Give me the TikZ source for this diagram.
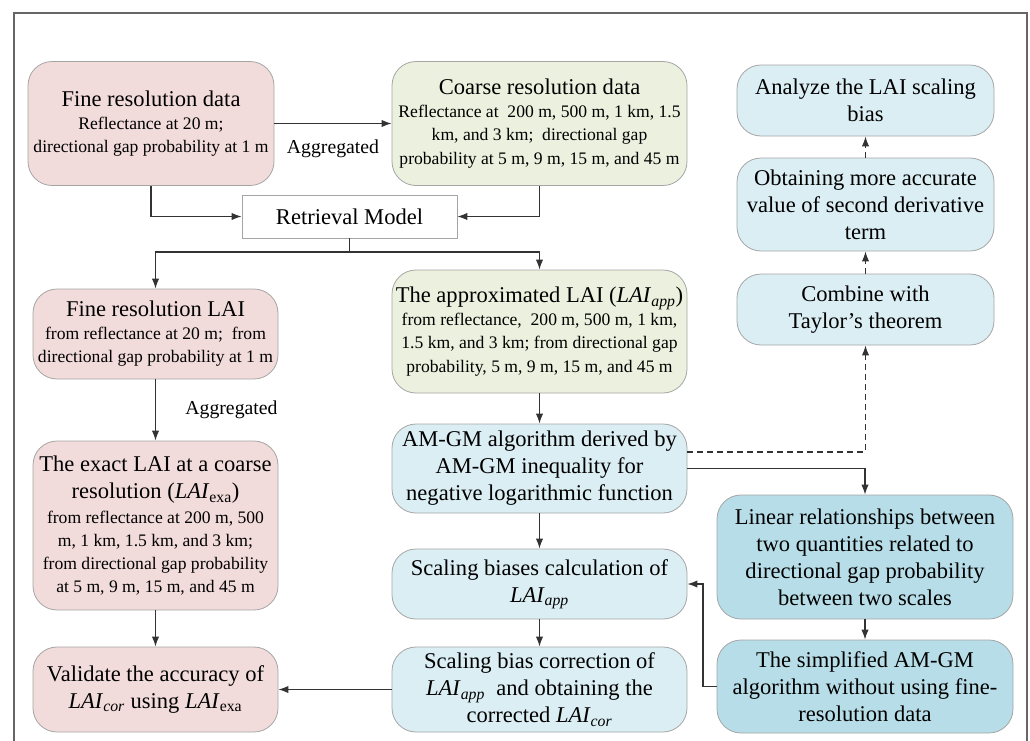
\documentclass[tikz,border=0pt]{standalone}
\usepackage{fontspec}
\setmainfont{Liberation Serif}
\usetikzlibrary{arrows.meta,calc}

\definecolor{pinkfill}{HTML}{F2DCDB}
\definecolor{greenfill}{HTML}{EBF1DE}
\definecolor{bluefill}{HTML}{DBEEF4}
\definecolor{tealfill}{HTML}{B7DEE8}
\definecolor{boxline}{HTML}{A5A5A5}
\definecolor{linkline}{HTML}{333333}
\definecolor{frameline}{HTML}{666666}

\newcommand{\boxtitle}{\fontsize{16.9}{20.2}\selectfont}
\newcommand{\boxbody}{\fontsize{13.2}{17.3}\selectfont}
\newcommand{\lai}[1]{\textit{LAI}\textsubscript{#1}}

\tikzset{
	boxdim/.style 2 args={minimum width=#1*0.75pt, minimum height=#2*0.75pt},
	flowbox/.style={draw=boxline, line width=0.6pt, rounded corners=18pt, align=center, inner sep=2pt, font=\boxbody},
	finebox/.style={flowbox, fill=pinkfill},
	coarsebox/.style={flowbox, fill=greenfill},
	stepbox/.style={flowbox, fill=bluefill, font=\boxtitle},
	simplebox/.style={flowbox, fill=tealfill, font=\boxtitle},
	link/.style={draw=linkline, line width=0.9pt, ->},
	dlink/.style={link, dash pattern=on 4.5pt off 3pt},
	lbl/.style={font=\fontsize{14.8}{17}\selectfont, inner sep=0pt}
}

\begin{document}
\begin{tikzpicture}[x=0.75pt, y=-0.75pt, >={Latex[length=7.5pt,width=5.5pt]}]
	\useasboundingbox (0,0) rectangle (1030,740);
	\draw[frameline, line width=1.1pt] (14,745) -- (14,13) -- (1027,13) -- (1027,745);
	
	\node[finebox, boxdim={246}{124}] (fined) at (151,123.5) {{\boxtitle Fine resolution data}\\Reflectance at 20 m;\\directional gap probability at 1 m};
	\node[coarsebox, boxdim={295}{124}] (coarse) at (539.5,123.5) {{\boxtitle Coarse resolution data}\\Reflectance at \ 200 m, 500 m, 1 km, 1.5\\km, and 3 km; \ directional gap\\probability at 5 m, 9 m, 15 m, and 45 m};
	\node[flowbox, rounded corners=0pt, font=\boxtitle, boxdim={215}{43}] (retrieval) at (349.5,216.5) {Retrieval Model};
	
	\node[stepbox, boxdim={257}{71}] (analyze) at (865.5,100.5) {Analyze the LAI scaling\\bias};
	\node[stepbox, boxdim={257}{93}] (obtain) at (865.5,204.5) {Obtaining more accurate\\value of second derivative\\term};
	\node[stepbox, boxdim={257}{71}] (combine) at (865.5,309.5) {Combine with\\Taylor’s theorem};
	
	\node[finebox, boxdim={245}{90}] (finelai) at (155.5,334) {{\boxtitle Fine resolution LAI}\\from reflectance at 20 m; \ from\\directional gap probability at 1 m};
	\node[finebox, boxdim={245}{169}] (exact) at (155.5,525.5) {{\boxtitle The exact LAI at a coarse}\\[3pt]{\boxtitle resolution (\lai{exa})}\\[1pt]from reflectance at 200 m, 500\\m, 1 km, 1.5 km, and 3 km;\\from directional gap probability\\at 5 m, 9 m, 15 m, and 45 m};
	\node[finebox, font=\boxtitle, boxdim={245}{85}] (validate) at (155.5,689.5) {Validate the accuracy of\\\lai{\textit{cor}} using \lai{exa}};
	
	\node[coarsebox, boxdim={295}{123}] (approx) at (539.5,331.5) {{\boxtitle The approximated LAI (\lai{\textit{app}})}\\from reflectance, \ 200 m, 500 m, 1 km,\\1.5 km, and 3 km; from directional gap\\probability, 5 m, 9 m, 15 m, and 45 m};
	\node[stepbox, boxdim={295}{89}] (amgm) at (539.5,468.5) {AM-GM algorithm derived by\\AM-GM inequality for\\negative logarithmic function};
	\node[stepbox, boxdim={295}{70}] (scaling) at (539.5,584) {Scaling biases calculation of\\\lai{\textit{app}}};
	\node[stepbox, boxdim={295}{85}] (correct) at (539.5,689.5) {Scaling bias correction of\\\lai{\textit{app}} \ and obtaining the\\corrected \lai{\textit{cor}}};
	
	\node[simplebox, boxdim={296}{124}] (linear) at (865,557) {Linear relationships between\\two quantities related to\\directional gap probability\\between two scales};
	\node[simplebox, boxdim={296}{93}] (simple) at (865,686.5) {The simplified AM-GM\\algorithm without using fine-\\resolution data};
	
	\coordinate (split) at (349.5,252);
	\coordinate (turn) at (703,686.5);
	
	\draw[link] (fined) -- (coarse) node[lbl, midway, below=12pt] {Aggregated};
	\draw[link] (fined.south) |- (retrieval.west);
	\draw[link] (coarse.south) |- (retrieval.east);
	\draw[draw=linkline, line width=0.9pt] (retrieval.south) -- (split);
	\draw[link] (split) -| (finelai.north);
	\draw[link] (split) -| (approx.north);
	\draw[link] (finelai) -- (exact) node[lbl, midway, right=22pt] {Aggregated};
	\draw[link] (exact) -- (validate);
	\draw[link] (approx) -- (amgm);
	\draw[link] (amgm) -- (scaling);
	\draw[link] (scaling) -- (correct);
	\draw[link] (correct) -- (validate);
	\draw[link] (amgm.east) -| (linear.north);
	\draw[dlink] ([yshift=12.4pt]amgm.east) -| (combine.south);
	\draw[dlink] (combine) -- (obtain);
	\draw[dlink] (obtain) -- (analyze);
	\draw[link] (linear) -- (simple);
	\draw[draw=linkline, line width=0.9pt] (simple.west) -- (turn);
	\draw[link] (turn) |- (scaling.east);
\end{tikzpicture}
\end{document}
